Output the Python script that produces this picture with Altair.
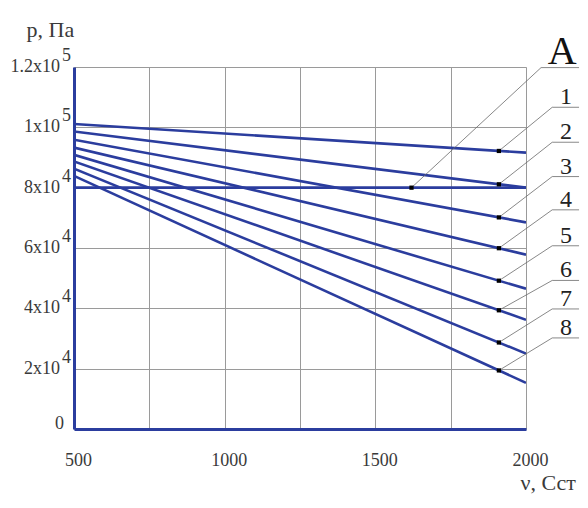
import altair as alt
import numpy as np
import pandas as pd

BLUE = "#2b3d9e"
TXT = "#3a3a3a"
SERIF = "Liberation Serif, Times New Roman, serif"

# ---- data ----
x_start, x_end = 500, 2000
line_names = ["1", "2", "3", "4", "5", "6", "7", "8"]
p_start = [101100, 98600, 95900, 93300, 90900, 88700, 86300, 83900]
p_end = [91600, 80000, 68500, 57800, 46500, 36200, 25000, 15300]
a_level = 80000

label_names = ["A", "1", "2", "3", "4", "5", "6", "7", "8"]
marker_x = [1620, 1910, 1910, 1910, 1910, 1910, 1910, 1910, 1910]
corner_x = [2050, 2087, 2087, 2087, 2087, 2087, 2087, 2087, 2087]
corner_y = [119800, 106650, 95060, 83680, 72650, 60740, 49250, 39790, 30190]
label_x = [2120, 2133, 2133, 2133, 2133, 2133, 2133, 2133, 2133]
end_x = 2176

x_grid = [500, 750, 1000, 1250, 1500, 1750, 2000]
y_ticks = [0, 20000, 40000, 60000, 80000, 100000, 120000]
y_base = ["0", "2x10", "4x10", "6x10", "8x10", "1x10", "1.2x10"]
y_exp = ["", "4", "4", "4", "4", "5", "5"]

# ---- tables ----
rows = []
for n, a, b in zip(line_names, p_start, p_end):
    rows.append({"name": n, "x": x_start, "y": a})
    rows.append({"name": n, "x": x_end, "y": b})
rows.append({"name": "A", "x": x_start, "y": a_level})
rows.append({"name": "A", "x": x_end, "y": a_level})
lines_df = pd.DataFrame(rows)

marker_y = [a_level] + [
    float(np.interp(mx, [x_start, x_end], [a, b]))
    for mx, a, b in zip(marker_x[1:], p_start, p_end)
]
mk_df = pd.DataFrame({"label": label_names, "x": marker_x, "y": marker_y})

lead_rows = []
for lab, mx, my, cx, cy in zip(label_names, marker_x, marker_y, corner_x, corner_y):
    lead_rows.append({"label": lab, "x": mx, "y": my, "ord": 0})
    lead_rows.append({"label": lab, "x": cx, "y": cy, "ord": 1})
    lead_rows.append({"label": lab, "x": end_x, "y": cy, "ord": 2})
lead_df = pd.DataFrame(lead_rows)

lab_df = pd.DataFrame({"label": label_names, "x": label_x, "y": corner_y})
ylab_df = pd.DataFrame({"y": y_ticks, "base": y_base, "exp": y_exp})

X = alt.X(
    "x:Q",
    scale=alt.Scale(domain=[x_start, x_end], nice=False, zero=False),
    axis=alt.Axis(
        values=x_grid,
        labelExpr="datum.value % 500 == 0 ? datum.label : ''",
        format="d",
        ticks=False,
        tickSize=0,
        labelFlush=False,
        labelOverlap=False,
        labelPadding=22,
        labelOffset=4,
        labelFont=SERIF,
        labelFontSize=18,
        labelColor=TXT,
        domainColor=BLUE,
        domainWidth=3,
        gridColor="#9a9a9a",
        gridWidth=1,
        title="ν, Сст",
        titleFont=SERIF,
        titleFontSize=22,
        titleFontWeight="normal",
        titleColor=TXT,
        titleAngle=0,
        titleAlign="left",
        titleBaseline="alphabetic",
        titleX=446,
        titleY=60,
    ),
)
Y = alt.Y(
    "y:Q",
    scale=alt.Scale(domain=[0, 120000], nice=False),
    axis=alt.Axis(
        values=y_ticks,
        labels=False,
        ticks=False,
        tickSize=0,
        domainColor=BLUE,
        domainWidth=3,
        gridColor="#9a9a9a",
        gridWidth=1,
        title="p, Па",
        titleFont=SERIF,
        titleFontSize=22,
        titleFontWeight="normal",
        titleColor=TXT,
        titleAngle=0,
        titleAlign="left",
        titleBaseline="alphabetic",
        titleX=-48,
        titleY=-31,
    ),
)

lines = alt.Chart(lines_df).mark_line(color=BLUE, strokeWidth=2.6, clip=True).encode(
    x=X, y=Y, detail="name:N"
)

leaders = alt.Chart(lead_df).mark_line(color="#6a6a6a", strokeWidth=0.8, clip=False).encode(
    x=X, y=Y, detail="label:N", order="ord:Q"
)

markers = alt.Chart(mk_df).mark_square(size=18, color="black", opacity=1, clip=False).encode(
    x=X, y=Y
)

lab_a = alt.Chart(lab_df).transform_filter("datum.label == 'A'").mark_text(
    font=SERIF, fontSize=40, color="#111", align="center", baseline="alphabetic", dy=-4, clip=False
).encode(x=X, y=Y, text="label:N")

lab_n = alt.Chart(lab_df).transform_filter("datum.label != 'A'").mark_text(
    font=SERIF, fontSize=24, color="#222", align="center", baseline="alphabetic", dy=-3, clip=False
).encode(x=X, y=Y, text="label:N")

ybase = alt.Chart(ylab_df).transform_filter("datum.y > 0").mark_text(
    font=SERIF, fontSize=18, color=TXT, align="right", baseline="alphabetic", dy=5
).encode(x=alt.value(-14), y=Y, text="base:N")

yzero = alt.Chart(ylab_df).transform_filter("datum.y == 0").mark_text(
    font=SERIF, fontSize=18, color=TXT, align="right", baseline="alphabetic", dy=0
).encode(x=alt.value(-10), y=Y, text="base:N")

yexp = alt.Chart(ylab_df).transform_filter("datum.y > 0").mark_text(
    font=SERIF, fontSize=18, color=TXT, align="left", baseline="alphabetic", dy=-6
).encode(x=alt.value(-12), y=Y, text="exp:N")

chart = (
    alt.layer(lines, leaders, markers, lab_a, lab_n, ybase, yzero, yexp)
    .properties(
        width=452,
        height=362,
        padding={"left": 66, "top": 59, "right": 54, "bottom": 66},
        autosize=alt.AutoSizeParams(type="none"),
    )
    .configure_view(stroke="#7a7a7a", strokeWidth=1)
    .configure(background="white")
)

chart.save("out.html", embed_options={"renderer": "svg", "actions": False})
